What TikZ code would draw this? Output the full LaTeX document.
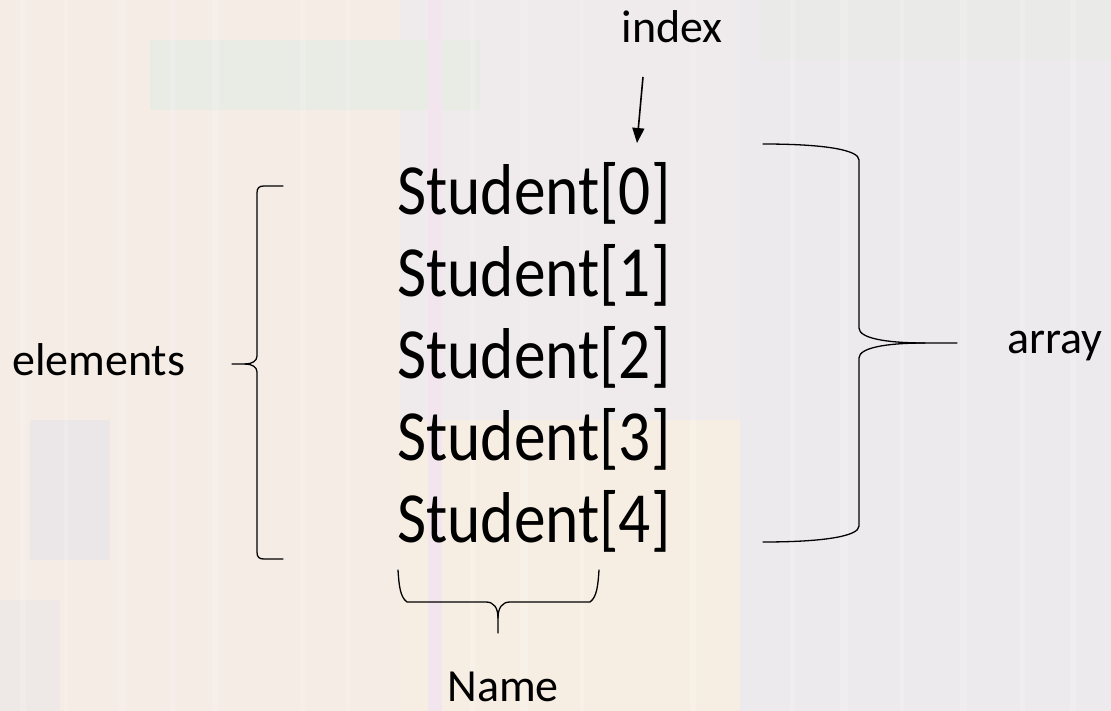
\documentclass[tikz,border=0pt]{standalone}
\usepackage{fontspec}
\setmainfont{Carlito}
\newfontfamily\narrowfont[FakeStretch=0.88]{Carlito}
\usetikzlibrary{arrows.meta}
\definecolor{bgbase}{RGB}{239,234,236}
\definecolor{bgwarm}{RGB}{245,236,229}
\definecolor{bggreen}{RGB}{233,235,229}
\definecolor{bgpink}{RGB}{243,229,237}
\definecolor{bggray}{RGB}{229,227,233}
\definecolor{bgcool}{RGB}{237,234,238}
\definecolor{bgyellow}{RGB}{246,238,227}
\begin{document}
\begin{tikzpicture}[x=1pt,y=-1pt,
  brace/.style={line width=1.3pt, line join=round, line cap=round, draw=black},
  big/.style={font=\narrowfont\fontsize{72}{86}\selectfont, inner sep=0pt, anchor=base west},
  lbl/.style={font=\fontsize{46}{55}\selectfont, inner sep=0pt},
  ptr/.style={line width=1.6pt, -{Triangle[length=15pt,width=12pt]}},
  streak/.style={fill=white, opacity=0.18}]
% background
\fill[bgbase] (0,0) rectangle (1111,711);
\fill[bgwarm] (0,0) rectangle (400,711);
\fill[bgyellow] (400,420) rectangle (740,711);
\fill[bgcool] (740,0) rectangle (1111,711);
\fill[bggreen] (150,40) rectangle (480,110);
\fill[bggreen, opacity=0.6] (760,0) rectangle (1111,60);
\fill[bgpink] (428,0) rectangle (442,711);
\fill[bggray, opacity=0.6] (30,420) rectangle (110,560);
\fill[bggray, opacity=0.4] (0,600) rectangle (60,711);
\foreach \sx/\sw in {20/6,64/4,118/8,170/5,212/7,300/6,346/4,470/5,520/8,580/4,690/6,790/5,840/8,900/4,960/7,1020/5,1070/6}
  \fill[streak] (\sx,0) rectangle ++(\sw,711);
\useasboundingbox (0,0) rectangle (1111,711);

% main texts
\node[big] (s0) at (397,215) {Student[0]};
\node[big] (s1) at (397,297) {Student[1]};
\node[big] (s2) at (397,378) {Student[2]};
\node[big] (s3) at (397,460) {Student[3]};
\node[big] (s4) at (397,542) {Student[4]};

\node[lbl, anchor=base] (index) at (672,43) {index};
\node[lbl, anchor=base west] (elements) at (12,375) {elements};
\node[lbl, anchor=base west] (array) at (1007,353) {array};
\node[lbl, anchor=base] (name) at (503,701) {Name};

% index arrow
\coordinate (arrowstart) at (643,77);
\coordinate (arrowtip) at (637,143);
\draw[ptr] (arrowstart) -- (arrowtip);

% left brace (elements)
\coordinate (ltip) at (232,364);
\draw[brace] (283,186) -- (264,186) .. controls (259,186) and (257,188) .. (257,193)
  -- (257,356) .. controls (257,361) and (252,364) .. (245,364) -- (ltip);
\draw[brace] (245,364) .. controls (252,364) and (257,367) .. (257,372)
  -- (257,552) .. controls (257,557) and (259,559) .. (264,559) -- (283,559);

% right brace (array)
\coordinate (rtip) at (957,343);
\draw[brace] (763,144) .. controls (825,144) and (859,150) .. (859,160)
  -- (859,328) .. controls (859,338) and (885,343) .. (925,343) -- (rtip);
\draw[brace] (925,343) .. controls (885,343) and (859,348) .. (859,358)
  -- (859,526) .. controls (859,536) and (825,542) .. (763,542);

% bottom brace (Name)
\coordinate (btip) at (498,633);
\draw[brace] (398,570) .. controls (399,585) and (400,597) .. (407,602)
  -- (486,602) .. controls (494,602) and (498,608) .. (498,618) -- (btip);
\draw[brace] (498,618) .. controls (498,608) and (502,602) .. (510,602)
  -- (590,602) .. controls (597,597) and (598,585) .. (599,570);
\end{tikzpicture}
\end{document}
